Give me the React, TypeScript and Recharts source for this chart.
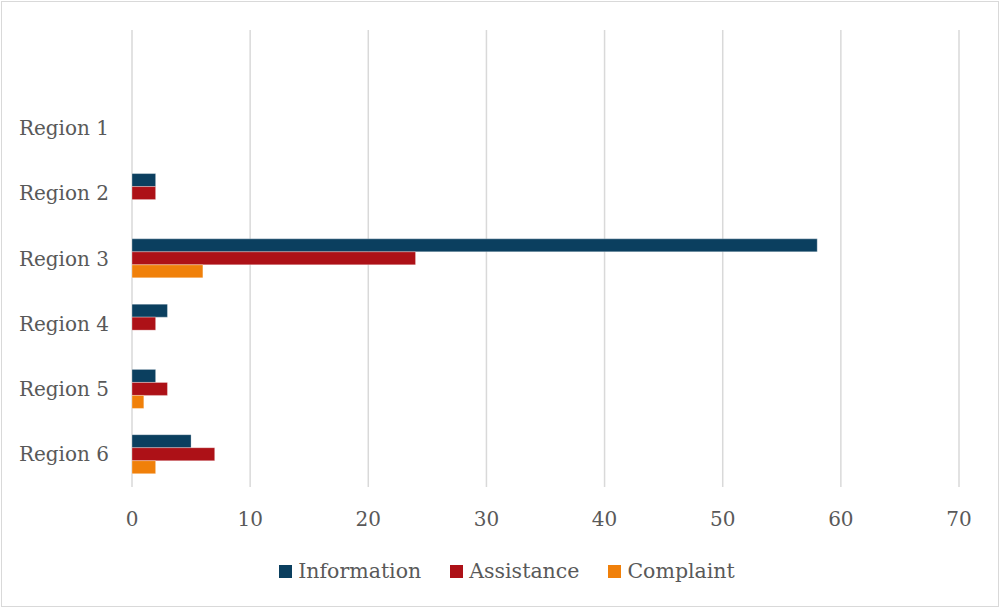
import React from 'react'
import { BarChart, Bar, XAxis, YAxis, CartesianGrid, Legend } from 'recharts'

const REGIONS = ['', 'Region 1', 'Region 2', 'Region 3', 'Region 4', 'Region 5', 'Region 6']
const INFORMATION = [null, 0, 2, 58, 3, 2, 5]
const ASSISTANCE = [null, 0, 2, 24, 2, 3, 7]
const COMPLAINT = [null, 0, 0, 6, 0, 1, 2]
const X_TICKS = [0, 10, 20, 30, 40, 50, 60, 70]

const SERIES = [
  { key: 'information', label: 'Information', color: '#0B3F5F' },
  { key: 'assistance', label: 'Assistance', color: '#AD1117' },
  { key: 'complaint', label: 'Complaint', color: '#F0800A' },
]

const data = REGIONS.map((name, i) => ({
  name,
  information: INFORMATION[i],
  assistance: ASSISTANCE[i],
  complaint: COMPLAINT[i],
}))

const FONT = '"DejaVu Serif", serif'
const TEXT = '#595959'
const TICK = { fontSize: 20, fill: TEXT, fontFamily: FONT }

function LegendContent() {
  return (
    <div style={{ display: 'flex', justifyContent: 'center', alignItems: 'center', fontFamily: FONT, fontSize: 20.5, color: TEXT }}>
      {SERIES.map((s, i) => (
        <div key={s.key} style={{ display: 'flex', alignItems: 'center', marginLeft: i ? 29 : 0 }}>
          <span style={{ width: 13, height: 13, background: s.color, marginRight: 6, display: 'inline-block' }} />
          <span>{s.label}</span>
        </div>
      ))}
    </div>
  )
}

export default function App() {
  return (
    <div style={{ position: 'absolute', left: 0, top: 0, width: 1000, height: 608, background: '#fff' }}>
      <div style={{ position: 'absolute', left: 1, top: 1, width: 996, height: 604, border: '1px solid #d9d9d9' }} />
      <BarChart
        width={1000}
        height={608}
        data={data}
        layout="vertical"
        margin={{ top: 30, right: 41, bottom: 81, left: 0 }}
        barGap={0}
        barSize={13}
      >
        <CartesianGrid horizontal={false} stroke="#d9d9d9" strokeWidth={1.5} />
        <XAxis
          type="number"
          domain={[0, 70]}
          ticks={X_TICKS}
          axisLine={false}
          tickLine={false}
          tickSize={0}
          tickMargin={25}
          height={40}
          tick={TICK}
        />
        <YAxis
          type="category"
          dataKey="name"
          width={132}
          axisLine={false}
          tickLine={false}
          tickSize={0}
          tickMargin={23}
          tick={TICK}
          interval={0}
        />
        <Legend
          verticalAlign="middle"
          content={<LegendContent />}
          wrapperStyle={{ position: 'absolute', top: 559, left: 7, width: 1000 }}
        />
        {SERIES.map(s => (
          <Bar
            key={s.key}
            dataKey={s.key}
            name={s.label}
            fill={s.color}
            stroke="rgba(255,255,255,0.3)"
            strokeWidth={1}
            isAnimationActive={false}
          />
        ))}
      </BarChart>
    </div>
  )
}
